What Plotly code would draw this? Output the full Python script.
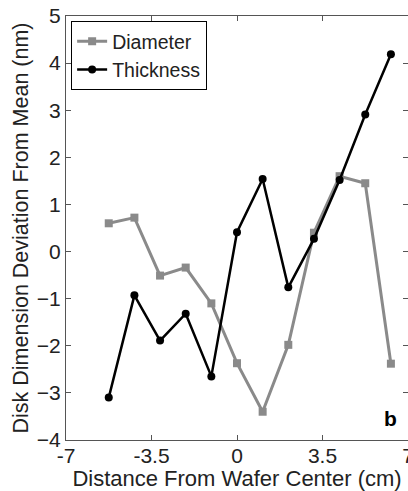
import plotly.graph_objects as go

distance = [-5.25, -4.2, -3.15, -2.1, -1.05, 0, 1.05, 2.1, 3.15, 4.2, 5.25, 6.3]
diameter = [0.60, 0.72, -0.51, -0.34, -1.10, -2.37, -3.40, -1.98, 0.40, 1.60, 1.45, -2.38]
thickness = [-3.10, -0.93, -1.89, -1.32, -2.65, 0.41, 1.54, -0.76, 0.27, 1.52, 2.91, 4.19]
x_ticks = [-7, -3.5, 0, 3.5, 7]
x_tick_labels = ["-7", "-3.5", "0", "3.5", "7"]
y_ticks = [-4, -3, -2, -1, 0, 1, 2, 3, 4, 5]

FONT = "Liberation Sans, Arial, sans-serif"

fig = go.Figure()
fig.add_trace(go.Scatter(
    x=distance, y=diameter, name="Diameter", mode="lines+markers",
    line=dict(color="#8a8a8a", width=3),
    marker=dict(symbol="square", size=8, color="#8a8a8a"),
    cliponaxis=False,
))
fig.add_trace(go.Scatter(
    x=distance, y=thickness, name="Thickness", mode="lines+markers",
    line=dict(color="#000000", width=2.5),
    marker=dict(symbol="circle", size=8, color="#000000"),
    cliponaxis=False,
))

fig.add_annotation(x=6.3, y=-3.55, xref="x", yref="y", text="<b>b</b>",
                   showarrow=False, font=dict(size=21, color="black", family=FONT))

fig.update_layout(
    template="none",
    width=408, height=491,
    margin=dict(l=66, r=0, t=16, b=51, pad=0),
    paper_bgcolor="white", plot_bgcolor="white",
    font=dict(family=FONT, size=21, color="#222222"),
    showlegend=True,
    legend=dict(
        x=0.015, y=0.988, xanchor="left", yanchor="top",
        bordercolor="black", borderwidth=1, bgcolor="white",
        font=dict(size=19.5, family=FONT, color="#222222"),
        tracegroupgap=0, itemwidth=30,
    ),
    xaxis=dict(
        range=[-7, 7], tickvals=x_ticks, ticktext=x_tick_labels,
        ticks="inside", ticklen=5, tickcolor="#555555",
        showline=True, linecolor="#555555", linewidth=1, mirror="ticks",
        showgrid=False, zeroline=False, automargin=False,
        ticklabeloverflow="allow", ticklabelstandoff=-3,
        tickfont=dict(size=21, family=FONT, color="#222222"),
        title=dict(text="Distance From Wafer Center (cm)", standoff=0,
                   font=dict(size=22, family=FONT, color="#222222")),
    ),
    yaxis=dict(
        range=[-4, 5], tickvals=y_ticks,
        ticks="inside", ticklen=5, tickcolor="#555555",
        showline=True, linecolor="#555555", linewidth=1, mirror="ticks",
        showgrid=False, zeroline=False, automargin=False,
        ticklabeloverflow="allow",
        tickfont=dict(size=21, family=FONT, color="#222222"),
        title=dict(text="Disk Dimension Deviation From Mean (nm)", standoff=2,
                   font=dict(size=21.5, family=FONT, color="#222222")),
    ),
)

fig.write_html("out.html")
